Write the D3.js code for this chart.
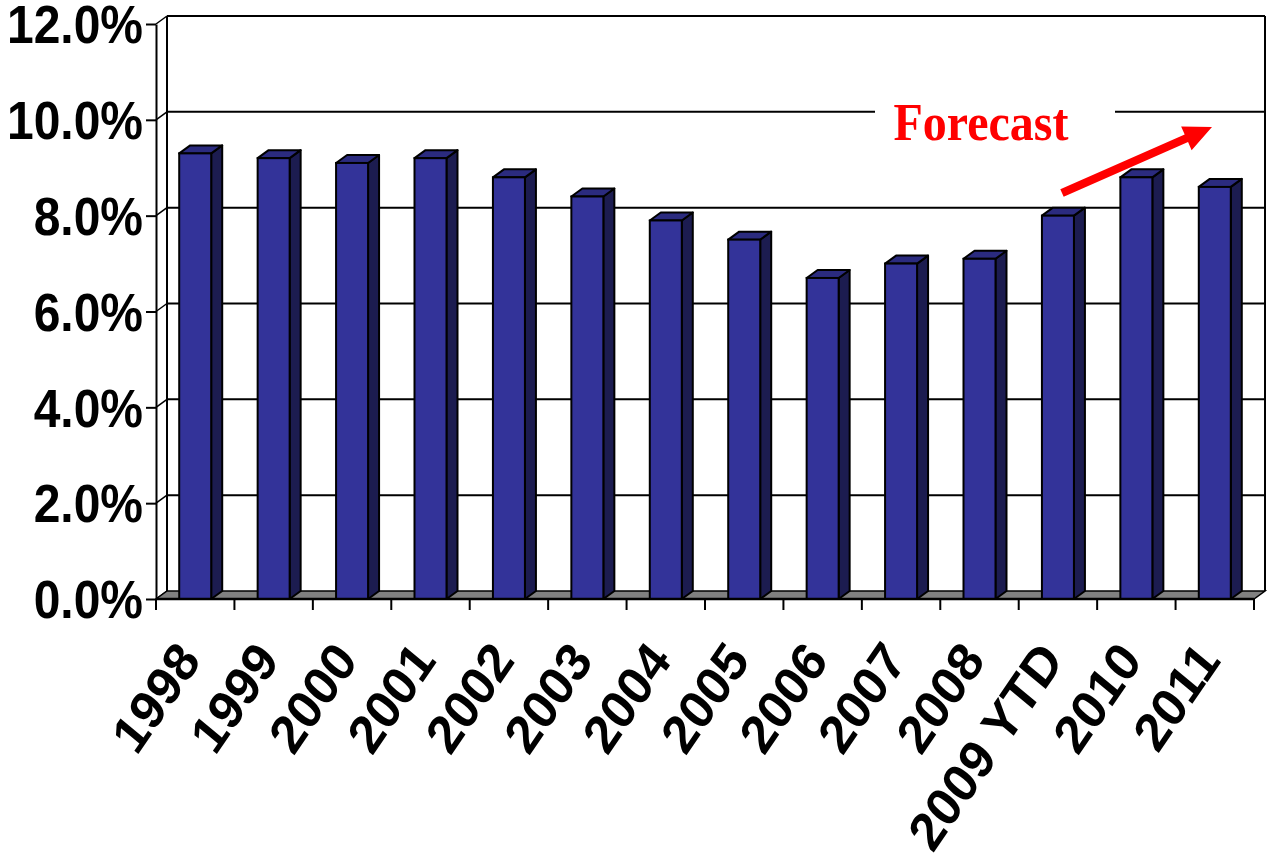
<!DOCTYPE html>
<html>
<head>
<meta charset="utf-8">
<script src="https://cdn.jsdelivr.net/npm/d3@7"></script>
<style>
  html, body { margin: 0; padding: 0; background: #fff; }
  svg { display: block; }
</style>
</head>
<body>
<script>
const categories = ["1998","1999","2000","2001","2002","2003","2004","2005","2006","2007","2008","2009 YTD","2010","2011"];
const values = [9.3, 9.2, 9.1, 9.2, 8.8, 8.4, 7.9, 7.5, 6.7, 7.0, 7.1, 8.0, 8.8, 8.6];
const yTicks = [0, 2, 4, 6, 8, 10, 12];
const annotationText = "Forecast";

(function () {
const W = 1268, H = 867;
const pLeft = 156, pRight = 1254, pBottom = 599, pTop = 24;
const dx = 11, dy = -8;

const svg = d3.select("body").append("svg").attr("width", W).attr("height", H);

const x = d3.scaleBand().domain(categories).range([pLeft, pRight]).padding(0);
const y = d3.scaleLinear().domain([0, 12]).range([pBottom, pTop]);

const g = svg.append("g");

// back wall gridlines
g.selectAll("line.grid").data(yTicks.filter(t => t > 0)).enter().append("line")
  .attr("x1", pLeft + dx).attr("x2", pRight + dx)
  .attr("y1", d => y(d) + dy).attr("y2", d => y(d) + dy)
  .attr("stroke", "#000").attr("stroke-width", 2);

// back wall edges
g.append("line").attr("x1", pRight + dx).attr("x2", pRight + dx)
  .attr("y1", y(12) + dy).attr("y2", y(0) + dy).attr("stroke", "#000").attr("stroke-width", 2);
g.append("line").attr("x1", pLeft + dx).attr("x2", pLeft + dx)
  .attr("y1", y(12) + dy).attr("y2", y(0) + dy).attr("stroke", "#000").attr("stroke-width", 2);

// left wall diagonals
g.selectAll("line.diag").data(yTicks).enter().append("line")
  .attr("x1", pLeft).attr("x2", pLeft + dx)
  .attr("y1", d => y(d)).attr("y2", d => y(d) + dy)
  .attr("stroke", "#000").attr("stroke-width", 1.5);

// floor
const floorPts = [[pLeft, y(0)], [pLeft + dx, y(0) + dy], [pRight + dx, y(0) + dy], [pRight, y(0)]];
g.append("polygon").attr("points", floorPts.map(p => p.join(",")).join(" "))
  .attr("fill", "#808080").attr("stroke", "#000").attr("stroke-width", 1.5);

// Forecast label box (covers gridline)
const fg = svg.append("g");
fg.append("rect").attr("x", 875).attr("y", 98).attr("width", 240).attr("height", 52).attr("fill", "#fff");
fg.append("text").text(annotationText)
  .attr("transform", "translate(981,140) scale(1,1.08)")
  .attr("text-anchor", "middle")
  .attr("font-family", "'Liberation Serif','Times New Roman',serif")
  .attr("font-weight", "bold").attr("font-size", 48).attr("fill", "#ff0000");

// bars
const bw = x.bandwidth();
const w = 32;
const bars = svg.append("g").selectAll("g.bar").data(categories.map((c, i) => ({ c, v: values[i] })))
  .enter().append("g");
bars.each(function (d) {
  const gg = d3.select(this);
  const x0 = x(d.c) + (bw - w) / 2;
  const yt = y(d.v), yb = y(0);
  const pts = a => a.map(p => p.join(",")).join(" ");
  gg.append("polygon").attr("points", pts([[x0 + w, yt], [x0 + w + dx, yt + dy], [x0 + w + dx, yb + dy], [x0 + w, yb]]))
    .attr("fill", "#1c1c50").attr("stroke", "#000").attr("stroke-width", 2).attr("stroke-linejoin", "round");
  gg.append("polygon").attr("points", pts([[x0, yt], [x0 + dx, yt + dy], [x0 + w + dx, yt + dy], [x0 + w, yt]]))
    .attr("fill", "#2b2b7f").attr("stroke", "#000").attr("stroke-width", 2).attr("stroke-linejoin", "round");
  gg.append("rect").attr("x", x0).attr("y", yt).attr("width", w).attr("height", yb - yt)
    .attr("fill", "#333399").attr("stroke", "#000").attr("stroke-width", 2);
});

// front floor edge
svg.append("line").attr("x1", pLeft).attr("x2", pRight).attr("y1", y(0)).attr("y2", y(0))
  .attr("stroke", "#000").attr("stroke-width", 2.5);

// y axis
const yAxis = d3.axisLeft(y).tickValues(yTicks).tickSize(10).tickSizeOuter(0)
  .tickFormat(d => d3.format(".1f")(d) + "%");
const ya = svg.append("g").attr("transform", `translate(${pLeft},0)`).call(yAxis);
ya.select(".domain").attr("stroke", "#000").attr("stroke-width", 2);
ya.selectAll(".tick line").attr("stroke", "#000").attr("stroke-width", 2);
ya.selectAll(".tick text")
  .attr("x", null).attr("dy", null)
  .attr("transform", "translate(-13,0) scale(1,1.1)")
  .attr("y", 17)
  .attr("text-anchor", "end")
  .attr("font-family", "'Liberation Sans',Arial,sans-serif")
  .attr("font-weight", "bold").attr("font-size", 48).attr("fill", "#000");

// x axis: labels
const xAxis = d3.axisBottom(x).tickSize(0).tickSizeOuter(0);
const xa = svg.append("g").attr("transform", `translate(0,${pBottom})`).call(xAxis);
xa.select(".domain").remove();
xa.selectAll(".tick text")
  .attr("y", null).attr("dy", null)
  .attr("transform", "translate(7,62) scale(1,1.1) rotate(-53)")
  .attr("text-anchor", "end")
  .attr("font-family", "'Liberation Sans',Arial,sans-serif")
  .attr("font-weight", "bold").attr("font-size", 49).attr("fill", "#000");

// x boundary ticks
const bounds = categories.map(c => x(c)).concat([pRight]);
svg.append("g").selectAll("line").data(bounds).enter().append("line")
  .attr("x1", d => d).attr("x2", d => d).attr("y1", pBottom).attr("y2", pBottom + 11)
  .attr("stroke", "#000").attr("stroke-width", 2);

// forecast arrow
const S = [1062, 193], T = [1212, 127];
const len = Math.hypot(T[0] - S[0], T[1] - S[1]);
const u = [(T[0] - S[0]) / len, (T[1] - S[1]) / len];
const n = [-u[1], u[0]];
const hl = 28, hw = 13, sw = 4.2;
const B = [T[0] - hl * u[0], T[1] - hl * u[1]];
const arrow = [
  [S[0] + sw * n[0], S[1] + sw * n[1]],
  [B[0] + sw * n[0], B[1] + sw * n[1]],
  [B[0] + hw * n[0], B[1] + hw * n[1]],
  T,
  [B[0] - hw * n[0], B[1] - hw * n[1]],
  [B[0] - sw * n[0], B[1] - sw * n[1]],
  [S[0] - sw * n[0], S[1] - sw * n[1]]
];
svg.append("polygon").attr("points", arrow.map(p => p.join(",")).join(" ")).attr("fill", "#ff0000");
})();
</script>
</body>
</html>
